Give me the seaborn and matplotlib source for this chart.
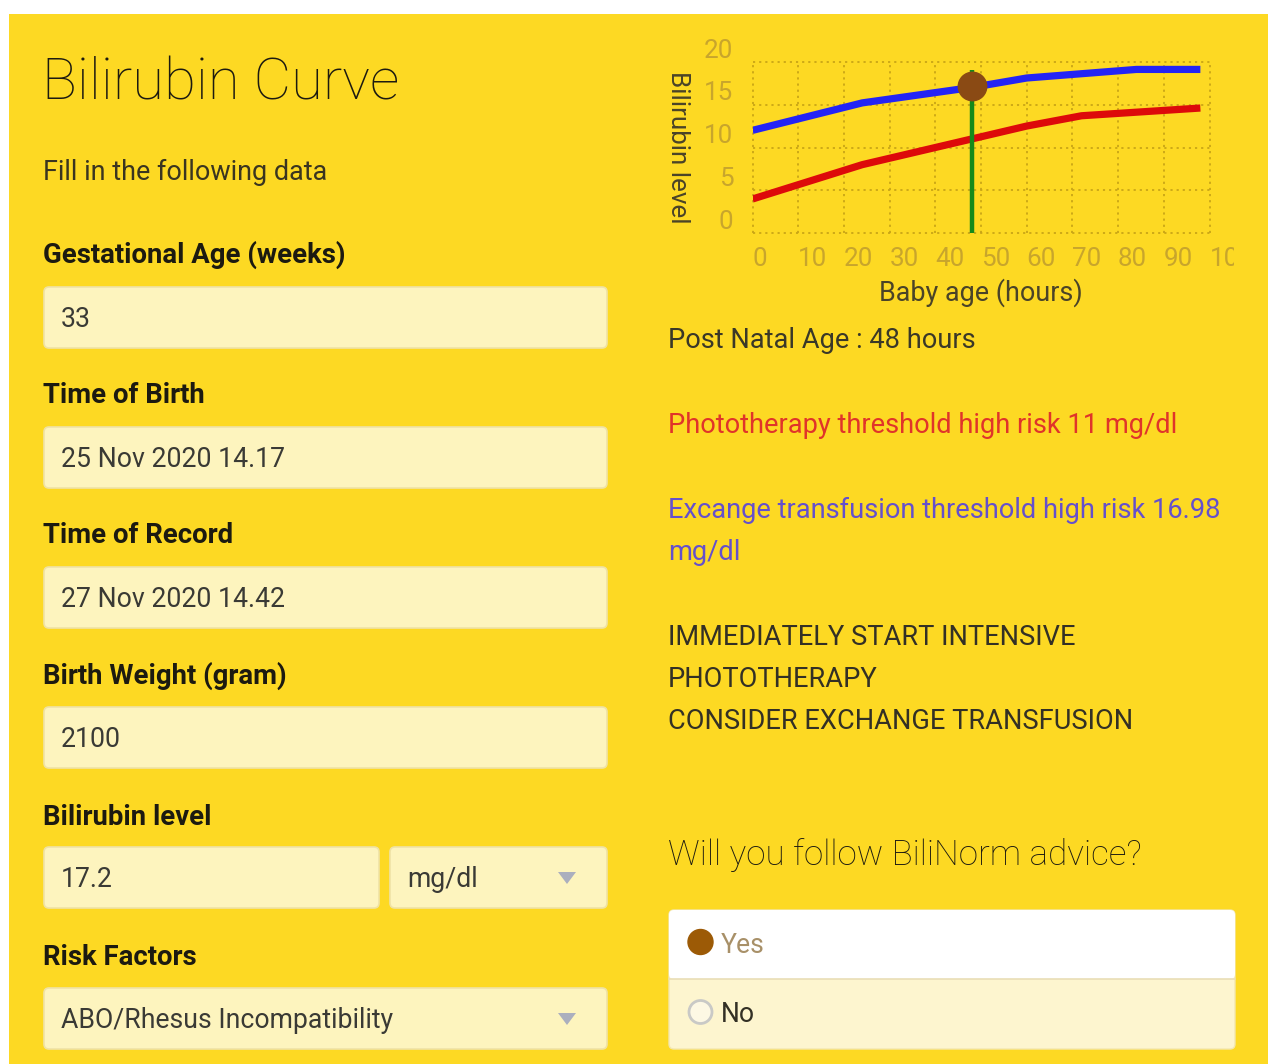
import matplotlib
matplotlib.use("Agg")
import matplotlib.pyplot as plt
import seaborn as sns
import pandas as pd
from matplotlib.patches import FancyBboxPatch, Rectangle, Polygon, Circle
from matplotlib.transforms import ScaledTranslation, Bbox, TransformedBbox

# ---------------- data ----------------
hours_exchange = [0, 24, 48, 60, 84, 98]
exchange_level = [12.0, 15.2, 17.0, 18.1, 19.1, 19.1]
hours_photo = [0, 24, 48, 60, 72, 98]
photo_level = [4.0, 8.0, 11.0, 12.5, 13.7, 14.6]
record_hour = [48]
record_bilirubin = [17.2]
marker_span = [0, 19]
x_ticks = [0, 10, 20, 30, 40, 50, 60, 70, 80, 90, 100]
y_ticks = [0, 5, 10, 15, 20]

form_labels = ["Gestational Age (weeks)", "Time of Birth", "Time of Record",
               "Birth Weight (gram)", "Bilirubin level", "Risk Factors"]
form_values = ["33", "25 Nov 2020 14.17", "27 Nov 2020 14.42", "2100",
               "17.2", "ABO/Rhesus Incompatibility"]
unit_value = "mg/dl"
result_lines = ["Post Natal Age : 48 hours",
                "Phototherapy threshold high risk 11 mg/dl",
                "Excange transfusion threshold high risk 16.98",
                "mg/dl"]
advice_lines = ["IMMEDIATELY START INTENSIVE", "PHOTOTHERAPY",
                "CONSIDER EXCHANGE TRANSFUSION"]
question = "Will you follow BiliNorm advice?"
options = ["Yes", "No"]

# ---------------- style ----------------
sns.set_style("white")
plt.rcParams['font.family'] = ['Roboto', 'DejaVu Sans']

W, H = 1272, 1064
YELLOW = "#FDD923"
FIELD = "#FDF4BE"
fig = plt.figure(figsize=(W / 100, H / 100), dpi=100, facecolor="white")

bg = fig.add_axes([0, 0, 1, 1], zorder=0)
bg.set_xlim(0, W)
bg.set_ylim(H, 0)
bg.axis("off")

bg.add_patch(Rectangle((9, 14), 1259, H - 14, facecolor=YELLOW, edgecolor="none"))

def pt(px):
    return px * 0.72

BODY = 27.2

# title & subtitle
bg.text(42, 100, "Bilirubin Curve", fontsize=pt(58), fontweight="light",
        color="#1c1a10", va="baseline", ha="left")
bg.text(43, 180, "Fill in the following data", fontsize=pt(27),
        color="#3a3520", va="baseline", ha="left")

label_base = [263, 403, 543, 684, 825, 965]
box_top = [287, 427, 567, 707, 847, 988]
for i, lab in enumerate(form_labels):
    bg.text(43, label_base[i], lab, fontsize=pt(27.5), fontweight="bold",
            color="#1c1a10", va="baseline", ha="left")
    top = box_top[i]
    if i == 4:
        boxes = [(44, 379), (390, 607)]
    else:
        boxes = [(44, 607)]
    for (x0, x1) in boxes:
        bg.add_patch(FancyBboxPatch((x0, top), x1 - x0, 61,
                                    boxstyle="round,pad=0,rounding_size=5",
                                    facecolor=FIELD, edgecolor="#EFE2A6", lw=1.2))
    bg.text(61, top + 40, form_values[i], fontsize=pt(26.6), color="#3a3a35",
            va="baseline", ha="left")
    if i == 4:
        bg.text(407, top + 40, unit_value, fontsize=pt(26.6), color="#3a3a35",
                va="baseline", ha="left")
    if i in (4, 5):
        cy = top + 25
        bg.add_patch(Polygon([[558, cy], [576, cy], [567, cy + 12]], closed=True,
                             facecolor="#ABAFBE", edgecolor="none"))

# right column texts
bg.text(668, 348, result_lines[0], fontsize=pt(BODY), color="#3a3828",
        va="baseline", ha="left")
bg.text(668, 433, result_lines[1], fontsize=pt(BODY), color="#E0342A",
        va="baseline", ha="left")
bg.text(668, 518, result_lines[2], fontsize=pt(BODY), color="#6550CC",
        va="baseline", ha="left")
bg.text(668, 560, result_lines[3], fontsize=pt(BODY), color="#6550CC",
        va="baseline", ha="left")
for j, t in enumerate(advice_lines):
    bg.text(668, 645 + 42 * j, t, fontsize=pt(BODY), color="#333025",
            va="baseline", ha="left")
bg.text(668, 865, question, fontsize=pt(35), fontweight="light",
        color="#1c1a10", va="baseline", ha="left")

# radio group
bg.add_patch(FancyBboxPatch((669, 910), 566, 139,
                            boxstyle="round,pad=0,rounding_size=5",
                            facecolor="#FDF5CF", edgecolor="#F3E7AE", lw=1))
bg.add_patch(FancyBboxPatch((669, 910), 566, 69,
                            boxstyle="round,pad=0,rounding_size=5",
                            facecolor="white", edgecolor="none"))
bg.plot([669, 1235], [979, 979], color="#E9DEB6", lw=1.2)
bg.add_patch(Circle((700.5, 942), 12.5, facecolor="#9C5A06", edgecolor="#9C5A06"))
bg.text(721, 953, options[0], fontsize=pt(26.5), color="#A89068",
        va="baseline", ha="left")
bg.add_patch(Circle((700.5, 1012), 11.5, facecolor="#FDF8E4", edgecolor="#C9C9C6", lw=2))
bg.text(721, 1022, options[1], fontsize=pt(26.5), color="#333025",
        va="baseline", ha="left")

# ---------------- chart ----------------
ax = fig.add_axes([752.6 / W, 1 - 233.3 / H, (1209.5 - 752.6) / W, (233.3 - 61.7) / H],
                  zorder=2)
ax.set_facecolor("none")
df_ex = pd.DataFrame({"hours": hours_exchange, "level": exchange_level})
df_ph = pd.DataFrame({"hours": hours_photo, "level": photo_level})
sns.lineplot(data=df_ex, x="hours", y="level", ax=ax, color="#2424F5",
             linewidth=5.2, solid_capstyle="butt", zorder=3)
sns.lineplot(data=df_ph, x="hours", y="level", ax=ax, color="#DD0A0A",
             linewidth=5.2, solid_capstyle="butt", zorder=3)
ax.plot([record_hour[0], record_hour[0]], marker_span, color="#168A1A",
        linewidth=3.2, solid_capstyle="butt", zorder=4)
ax.scatter(record_hour, record_bilirubin, s=420, color="#8A4A14", zorder=5,
           edgecolor="#8A4A14", clip_on=False)

ax.set_xlim(0, 100)
ax.set_ylim(0, 20)
ax.set_xticks(x_ticks)
ax.set_yticks(y_ticks)
for s in ax.spines.values():
    s.set_visible(False)
ax.grid(True, linestyle=(0, (1.2, 2.2)), color="#C9A516", linewidth=1.3)
for gl in ax.get_xgridlines() + ax.get_ygridlines():
    gl.set_clip_on(False)
ax.tick_params(axis="both", length=0, labelsize=pt(26), labelcolor="#C8A52C")
ax.tick_params(axis="x", pad=pt(14))
ax.tick_params(axis="y", pad=pt(19))

clip = TransformedBbox(Bbox([[0, 0], [1234 / W, 1]]), fig.transFigure)
for lab in ax.get_xticklabels():
    lab.set_ha("left")
    lab.set_clip_box(clip)
    lab.set_clip_on(True)
yoff = ScaledTranslation(0, 0.137, fig.dpi_scale_trans)
for lab in ax.get_yticklabels():
    lab.set_transform(lab.get_transform() + yoff)

ax.set_xlabel("Baby age (hours)", fontsize=pt(27), color="#4A4328")
ax.set_ylabel("Bilirubin level", fontsize=pt(26), color="#4A4328",
              rotation=270, va="center")
ax.xaxis.set_label_coords(0.5, -0.348)
ax.yaxis.set_label_coords(-0.163, 0.5)
ax.xaxis.label.set_va("center")

fig.savefig("out.png", dpi=100)
